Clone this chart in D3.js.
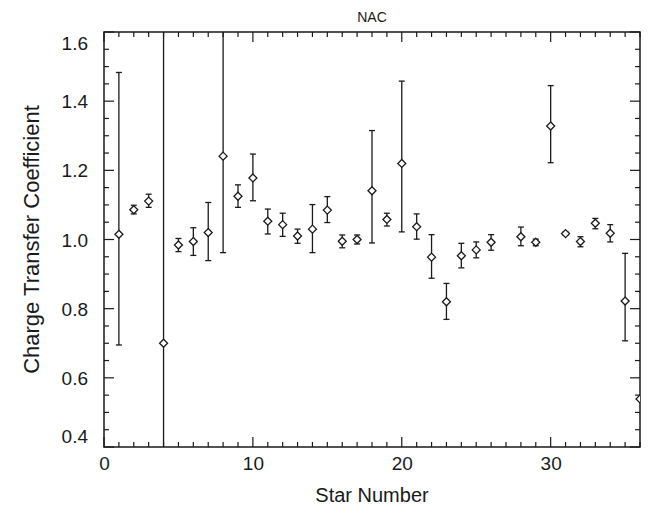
<!DOCTYPE html>
<html>
<head>
<meta charset="utf-8">
<script src="https://cdn.jsdelivr.net/npm/d3@7"></script>
<style>
  body { margin: 0; background: #fff; }
  svg { display: block; font-family: "Liberation Sans", Arial, sans-serif; }
</style>
</head>
<body>
<svg id="chart" width="649" height="515"></svg>
<script>
// Star numbers (27 is absent)
const stars = [1, 2, 3, 4, 5, 6, 7, 8, 9, 10, 11, 12, 13, 14, 15, 16, 17, 18, 19, 20,
  21, 22, 23, 24, 25, 26, 28, 29, 30, 31, 32, 33, 34, 35, 36];
const coeff = [1.015, 1.086, 1.111, 0.700, 0.984, 0.994, 1.020, 1.241, 1.125, 1.178,
  1.053, 1.043, 1.010, 1.030, 1.085, 0.995, 1.000, 1.141, 1.058, 1.220,
  1.037, 0.949, 0.820, 0.953, 0.970, 0.992, 1.008, 0.992, 1.328, 1.017,
  0.994, 1.047, 1.018, 0.822, 0.539];
const errLow = [0.695, 1.074, 1.093, 0.20, 0.965, 0.954, 0.939, 0.962, 1.093, 1.112,
  1.016, 1.009, 0.989, 0.962, 1.049, 0.976, 0.987, 0.990, 1.039, 1.022,
  1.001, 0.888, 0.769, 0.918, 0.947, 0.969, 0.982, 0.982, 1.222, 1.012,
  0.979, 1.031, 0.993, 0.707, 0.539];
const errHigh = [1.483, 1.099, 1.131, 1.80, 1.003, 1.034, 1.107, 1.80, 1.158, 1.247,
  1.088, 1.076, 1.030, 1.101, 1.124, 1.013, 1.013, 1.315, 1.076, 1.458,
  1.074, 1.014, 0.873, 0.989, 0.993, 1.014, 1.036, 1.001, 1.445, 1.022,
  1.008, 1.061, 1.043, 0.960, 0.539];
const yTicks = [0.4, 0.6, 0.8, 1.0, 1.2, 1.4, 1.6];
const xTicks = [0, 10, 20, 30];

const margin = { top: 32, right: 9, bottom: 68, left: 104 };
const W = 649, H = 515;
const width = W - margin.left - margin.right;
const height = H - margin.top - margin.bottom;

const svg = d3.select("#chart");
const g = svg.append("g").attr("transform", `translate(${margin.left},${margin.top})`);

const x = d3.scaleLinear().domain([0, 36]).range([0, width]);
const y = d3.scaleLinear().domain([0.4, 1.6]).range([height, 0]);

const ink = "#1a1a1a";

g.append("clipPath").attr("id", "plot-clip")
  .append("rect").attr("width", width).attr("height", height);

// minor/major ticks on all four sides, pointing inward
const minorY = d3.range(0.4, 1.6001, 0.05);
const minorX = d3.range(0, 36.001, 1);

const tickG = g.append("g").attr("stroke", ink).attr("stroke-width", 1.2);
minorY.forEach(v => {
  const major = yTicks.some(t => Math.abs(t - v) < 1e-6);
  const len = major ? 10 : 5;
  tickG.append("line").attr("x1", 0).attr("x2", len).attr("y1", y(v)).attr("y2", y(v));
  tickG.append("line").attr("x1", width).attr("x2", width - len).attr("y1", y(v)).attr("y2", y(v));
});
minorX.forEach(v => {
  const major = xTicks.some(t => Math.abs(t - v) < 1e-6);
  const len = major ? 10 : 5;
  tickG.append("line").attr("x1", x(v)).attr("x2", x(v)).attr("y1", height).attr("y2", height - len);
  tickG.append("line").attr("x1", x(v)).attr("x2", x(v)).attr("y1", 0).attr("y2", len);
});

// frame
g.append("rect")
  .attr("width", width).attr("height", height)
  .attr("fill", "none").attr("stroke", ink).attr("stroke-width", 1.5);

// tick labels through axes (no tick lines of their own)
const yAxis = g.append("g")
  .call(d3.axisLeft(y).tickValues(yTicks).tickFormat(d3.format(".1f")).tickSize(0).tickPadding(16));
yAxis.select(".domain").remove();
yAxis.selectAll("text")
  .style("font-size", "19px").attr("fill", ink)
  .attr("dy", d => d === 1.6 ? "0.9em" : d === 0.4 ? "-0.25em" : "0.35em");

const xAxis = g.append("g").attr("transform", `translate(0,${height})`)
  .call(d3.axisBottom(x).tickValues(xTicks).tickFormat(d3.format("d")).tickSize(0).tickPadding(10));
xAxis.select(".domain").remove();
xAxis.selectAll("text").style("font-size", "19px").attr("fill", ink);

// data
const data = stars.map((s, i) => ({ s, v: coeff[i], lo: errLow[i], hi: errHigh[i] }));
const marks = g.append("g").attr("clip-path", "url(#plot-clip)")
  .attr("stroke", ink).attr("stroke-width", 1.3).attr("fill", "none");

const bars = data.filter(d => d.hi > d.lo);
marks.selectAll(".err").data(bars).enter().append("line")
  .attr("x1", d => x(d.s)).attr("x2", d => x(d.s))
  .attr("y1", d => y(d.lo)).attr("y2", d => y(d.hi));
marks.selectAll(".capLo").data(bars).enter().append("line")
  .attr("x1", d => x(d.s) - 3).attr("x2", d => x(d.s) + 3)
  .attr("y1", d => y(d.lo)).attr("y2", d => y(d.lo));
marks.selectAll(".capHi").data(bars).enter().append("line")
  .attr("x1", d => x(d.s) - 3).attr("x2", d => x(d.s) + 3)
  .attr("y1", d => y(d.hi)).attr("y2", d => y(d.hi));

const r = 4;
marks.selectAll(".pt").data(data).enter().append("path")
  .attr("d", d => {
    const cx = x(d.s), cy = y(d.v);
    return `M${cx},${cy - r}L${cx + r},${cy}L${cx},${cy + r}L${cx - r},${cy}Z`;
  })
  .attr("fill", "#fff");

// titles
svg.append("text")
  .attr("x", margin.left + width / 2).attr("y", 22)
  .attr("text-anchor", "middle").style("font-size", "14px").attr("fill", ink)
  .text("NAC");

svg.append("text")
  .attr("x", margin.left + width / 2).attr("y", 502)
  .attr("text-anchor", "middle").style("font-size", "20px").attr("fill", ink)
  .text("Star Number");

svg.append("text")
  .attr("transform", `translate(39,${margin.top + height / 2}) rotate(-90)`)
  .attr("text-anchor", "middle").style("font-size", "22px").attr("fill", ink)
  .text("Charge Transfer Coefficient");
</script>
</body>
</html>
